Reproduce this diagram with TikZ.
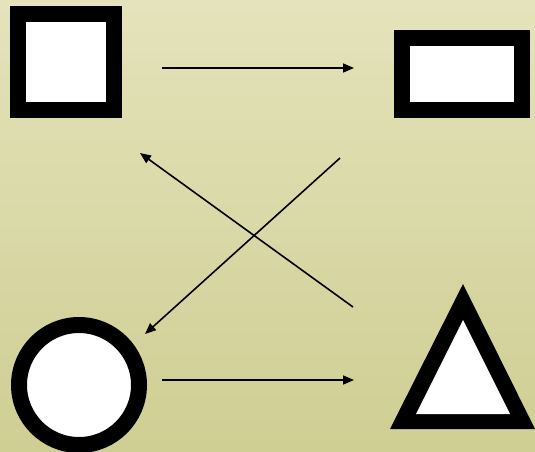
\documentclass[tikz,border=0pt]{standalone}
\usetikzlibrary{arrows.meta}
\definecolor{bgtop}{RGB}{228,227,187}
\definecolor{bgbot}{RGB}{207,206,147}
\begin{document}
\begin{tikzpicture}[x=1pt,y=-1pt,
  shapeline/.style={draw=black,fill=white,line width=16pt},
  conn/.style={line width=1.6pt,-{Triangle[length=11pt,width=9pt]}}]
\shade[top color=bgtop,bottom color=bgbot] (0,0) rectangle (535,451);
\useasboundingbox (0,0) rectangle (535,451);
% shapes
\node[shapeline,minimum width=96pt,minimum height=96pt,inner sep=0pt,outer sep=0pt] (sq) at (66,62) {};
\node[shapeline,minimum width=120pt,minimum height=72pt,inner sep=0pt,outer sep=0pt] (re) at (462,74) {};
\node[shapeline,circle,minimum size=120pt,inner sep=0pt,outer sep=0pt] (ci) at (79,385) {};
\fill[black] (463,284) -- (535,429) -- (390,429) -- cycle;
\fill[white] (463,320) -- (510,414) -- (416,414) -- cycle;
\coordinate (tr) at (463,370);
% connector endpoints
\coordinate (a1) at (162,68);  \coordinate (a2) at (354,68);
\coordinate (b1) at (162,380); \coordinate (b2) at (354,380);
\coordinate (c1) at (353,307); \coordinate (c2) at (140,153);
\coordinate (d1) at (340,158); \coordinate (d2) at (145,334);
\draw[conn] (a1) -- (a2);
\draw[conn] (b1) -- (b2);
\draw[conn] (c1) -- (c2);
\draw[conn] (d1) -- (d2);
\end{tikzpicture}
\end{document}
